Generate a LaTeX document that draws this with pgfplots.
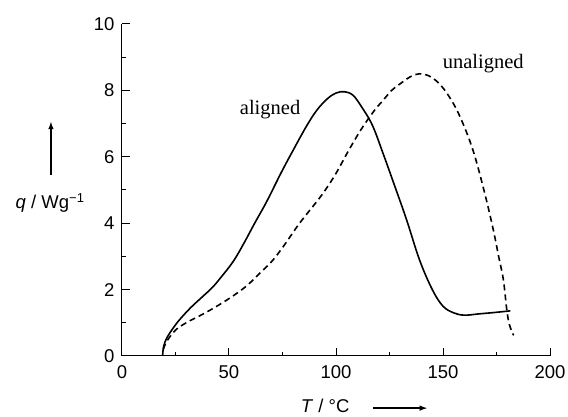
\documentclass[border=0pt]{standalone}
\usepackage{pgfplots}
\pgfplotsset{compat=1.18}
\usepackage{fontspec}
\setmainfont{Liberation Sans}
\newfontfamily\serif{Liberation Serif}

\begin{document}
\begin{tikzpicture}
\begin{axis}[
  width=428pt, height=332pt, scale only axis,
  xmin=0, xmax=200, ymin=0, ymax=10,
  axis lines*=left,
  xtick={0,50,...,200}, ytick={0,2,...,10},
  minor x tick num=1, minor y tick num=1,
  major tick length=8pt, minor tick length=4pt,
  tick style={line width=1pt, black},
  axis line style={line width=1pt},
  ticklabel style={font=\fontsize{18.5}{21}\selectfont},
  xticklabel style={yshift=-6pt},
  yticklabel style={xshift=-4pt},
  /pgf/number format/assume math mode=true,
  clip=false,
]
\coordinate (bl) at (rel axis cs:0,0);
\coordinate (tr) at (rel axis cs:1,1);

% aligned
\addplot[black, line width=1.6pt, smooth, tension=0.6] coordinates {
  (19,0.03)(19.5,0.3)(21,0.55)(24,0.85)(27,1.1)(32,1.45)(37,1.75)(42,2.05)
  (46,2.35)(52,2.85)(57,3.4)(62,4.0)(67.6,4.65)(74.6,5.55)(80,6.2)(86,6.9)
  (91,7.4)(96,7.75)(100,7.92)(104,7.96)(108,7.85)(112,7.5)(117,6.95)(122,6.1)
  (127,5.2)(133,4.1)(139,2.9)(145,2.0)(150,1.5)(155,1.3)(160,1.23)(167,1.27)
  (174,1.31)(181.5,1.36)
};
% unaligned
\addplot[black, line width=1.6pt, dash pattern=on 6pt off 4pt, smooth, tension=0.6] coordinates {
  (19.3,0.2)(21,0.45)(25,0.78)(30,1.0)(36,1.2)(43,1.45)(50.5,1.75)(58,2.1)
  (64.5,2.5)(70,2.85)(75.4,3.3)(83,4.0)(91,4.65)(95,5.0)(100,5.5)(106,6.2)
  (112,6.85)(118,7.4)(122,7.7)(126,8.0)(130,8.2)(135,8.42)(139,8.5)(143,8.45)
  (148,8.22)(153,7.8)(158,7.2)(164,6.2)(169.5,4.9)(173.5,3.8)(176,3.0)
  (178.2,2.3)(179.8,1.4)(181,0.95)(183,0.62)
};

\node[font=\serif\fontsize{20.5}{22}\selectfont] at (axis cs:69.2,7.41) {aligned};
\node[font=\serif\fontsize{20.5}{22}\selectfont] at (axis cs:168.8,8.82) {unaligned};

\node[font=\fontsize{18.5}{21}\selectfont] at (axis cs:-33.6,4.61)
  {\textit{q} / Wg\textsuperscript{−1}};
\draw[-latex, line width=1.5pt] (axis cs:-33.2,5.45) -- (axis cs:-33.2,7.05);

\node[font=\fontsize{18.5}{21}\selectfont] at (axis cs:94.9,-1.5)
  {\textit{T} / °C};
\draw[-latex, line width=1.5pt] (axis cs:117.3,-1.57) -- (axis cs:142.5,-1.57);
\end{axis}
\pgfresetboundingbox
\path ([shift={(-122pt,-61pt)}]bl) rectangle ([shift={(18pt,24pt)}]tr);
\end{tikzpicture}
\end{document}
